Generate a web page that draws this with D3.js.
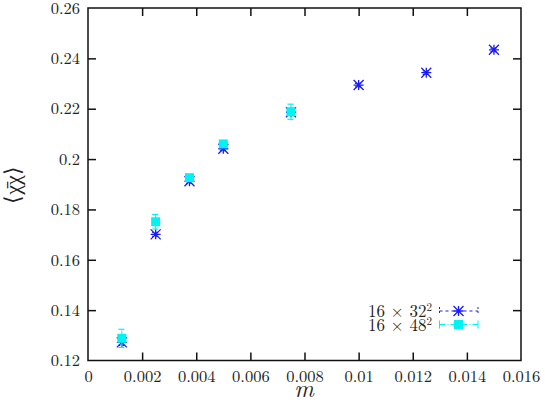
<!DOCTYPE html>
<html><head><meta charset="utf-8">
<script src="https://cdn.jsdelivr.net/npm/d3@7"></script>
<style>body{margin:0;background:#fff}svg{display:block}
svg text{font-family:"Latin Modern Roman";}
.tick text{font-family:"Latin Modern Roman";font-size:16.5px;}
</style>
</head><body><svg id="c" width="545" height="404"></svg>
<script>
const xTicks = [0,0.002,0.004,0.006,0.008,0.01,0.012,0.014,0.016];
const xTickLabels = ["0","0.002","0.004","0.006","0.008","0.01","0.012","0.014","0.016"];
const yTicks = [0.12,0.14,0.16,0.18,0.2,0.22,0.24,0.26];
const yTickLabels = ["0.12","0.14","0.16","0.18","0.2","0.22","0.24","0.26"];

const m32 = [0.00125,0.0025,0.00375,0.005,0.0075,0.01,0.0125,0.015];
const v32 = [0.1272,0.1701,0.1912,0.2041,0.2186,0.2294,0.2343,0.2434];
const e32 = [0.0012,0.0008,0.0008,0.0008,0.0008,0.0007,0.0007,0.0007];

const m48 = [0.00125,0.0025,0.00375,0.005,0.0075];
const v48 = [0.1288,0.1751,0.1926,0.2060,0.2188];
const e48 = [0.0036,0.0029,0.0012,0.0012,0.0030];

const seriesNames = ["16 \u00d7 32", "16 \u00d7 48"];

const FONT = '"Latin Modern Roman"';
const svg = d3.select("#c");
const L=88,R=521,T=8,B=360.5;
const x = d3.scaleLinear().domain([0,0.016]).range([L,R]);
const y = d3.scaleLinear().domain([0.12,0.26]).range([B,T]);

svg.append("rect").attr("x",L).attr("y",T).attr("width",R-L).attr("height",B-T)
  .attr("fill","none").attr("stroke","#111").attr("stroke-width",1.5);

const tl=8;
const ax = svg.append("g").attr("transform",`translate(0,${B})`)
  .call(d3.axisBottom(x).tickValues(xTicks).tickFormat((d,i)=>xTickLabels[i]).tickSize(-tl).tickPadding(10));
const axT = svg.append("g").attr("transform",`translate(0,${T})`)
  .call(d3.axisTop(x).tickValues(xTicks.slice(1,-1)).tickFormat("").tickSize(-tl));
const ay = svg.append("g").attr("transform",`translate(${L},0)`)
  .call(d3.axisLeft(y).tickValues(yTicks).tickFormat((d,i)=>yTickLabels[i]).tickSize(-tl).tickPadding(8));
const ayR = svg.append("g").attr("transform",`translate(${R},0)`)
  .call(d3.axisRight(y).tickValues(yTicks.slice(1,-1)).tickFormat("").tickSize(-tl));
[ax,axT,ay,ayR].forEach(g=>{
  g.attr("font-family",FONT).attr("font-size","16.5");
  g.select(".domain").remove();
  g.selectAll(".tick line").attr("stroke","#111").attr("stroke-width",1.5);
  g.selectAll(".tick text").attr("font-family",FONT).attr("font-size","16.5")
    .style("font-family",FONT).style("font-size","16.5px").attr("fill","#222");
});
ax.selectAll(".tick").filter(d=>d===0||d===0.016).select("line").remove();
ay.selectAll(".tick").filter(d=>d===0.12||d===0.26).select("line").remove();

svg.append("text").attr("x",304).attr("y",397).attr("text-anchor","middle").attr("fill","#222")
  .style("font-family",FONT).style("font-style","italic").style("font-size","24px").text("m");
svg.append("text").attr("transform","translate(20,185) rotate(-90)").attr("text-anchor","middle").attr("fill","#222")
  .style("font-family",FONT).style("font-size","22px").text("\u27e8\u03c7\u0304\u03c7\u27e9");

const blue="#1a1aff", cyan="#00f2f2";

function errbar(g, cx, v, e, col, dash){
  g.append("line").attr("x1",cx).attr("x2",cx).attr("y1",y(v-e)).attr("y2",y(v+e))
    .attr("stroke",col).attr("stroke-width",1).attr("stroke-dasharray",dash);
  [v-e,v+e].forEach(t=>g.append("line").attr("x1",cx-3.5).attr("x2",cx+3.5).attr("y1",y(t)).attr("y2",y(t))
    .attr("stroke",col).attr("stroke-width",1.2).attr("stroke-dasharray",dash));
}
function star(g,cx,cy){
  const r=5;
  g.append("path").attr("d",`M${cx-r},${cy}H${cx+r}M${cx},${cy-r}V${cy+r}M${cx-r},${cy-r}L${cx+r},${cy+r}M${cx-r},${cy+r}L${cx+r},${cy-r}`)
    .attr("stroke",blue).attr("stroke-width",1.3).attr("fill","none");
}
function square(g,cx,cy){
  g.append("rect").attr("x",cx-4.5).attr("y",cy-4.5).attr("width",9).attr("height",9).attr("fill",cyan);
}

const g1 = svg.append("g");
m32.forEach((m,i)=>{ errbar(g1,x(m),v32[i],e32[i],blue,"2,2"); star(g1,x(m),y(v32[i])); });
const g2 = svg.append("g");
m48.forEach((m,i)=>{ errbar(g2,x(m),v48[i],e48[i],cyan,"6,2,1,2"); square(g2,x(m),y(v48[i])); });

const lg = svg.append("g");
const rows=[{n:seriesNames[0],s:"2",y:311,col:blue,dash:"3,3",mk:star},{n:seriesNames[1],s:"2",y:324.5,col:cyan,dash:"6,2,1,2",mk:square}];
rows.forEach(r=>{
  const t=lg.append("text").attr("x",432).attr("y",r.y+6).attr("text-anchor","end").attr("fill","#222")
    .style("font-family",FONT).style("font-size","17px");
  t.append("tspan").text(r.n);
  t.append("tspan").attr("dy",-6).style("font-size","11px").text(r.s);
  lg.append("line").attr("x1",439.5).attr("x2",478).attr("y1",r.y).attr("y2",r.y).attr("stroke",r.col).attr("stroke-dasharray",r.dash);
  [439.5,478].forEach(xx=>lg.append("line").attr("x1",xx).attr("x2",xx).attr("y1",r.y-4).attr("y2",r.y+4).attr("stroke",r.col).attr("stroke-dasharray",r.col===blue?"2,2":null));
  r.mk(lg,458.5,r.y);
});
</script></body></html>
